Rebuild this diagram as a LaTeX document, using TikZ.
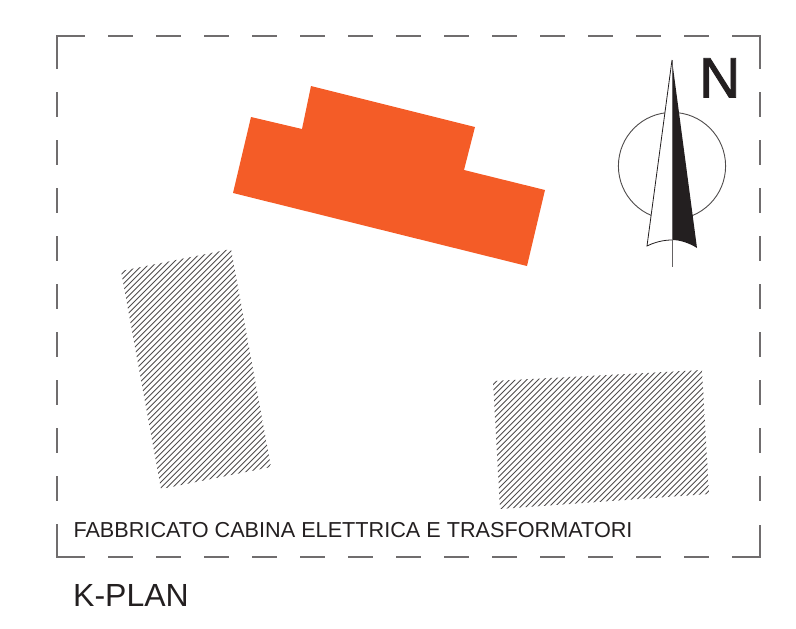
\documentclass[tikz,border=0pt]{standalone}
\usepackage{fontspec}
\setmainfont{Liberation Sans}
\newfontfamily\northfont[FakeBold=1.5]{Liberation Sans}
\definecolor{plan}{HTML}{F45C27}
\definecolor{ink}{HTML}{231F20}
\tikzset{
  frameline/.style={draw=ink!65,line width=1.05pt},
  hatchline/.style={draw=ink!80,line width=1.0pt},
  needle/.style={draw=ink,line width=0.8pt},
  lbl/.style={anchor=base west,inner sep=0pt,text=ink}
}
\begin{document}
\begin{tikzpicture}[x=1pt,y=-1pt]
\useasboundingbox (0,0) rectangle (796,629);
% frame
\draw[frameline] (57,69) -- (57,36) -- (84.5,36);
\draw[frameline] (732,36) -- (760,36) -- (760,69);
\draw[frameline] (57,524) -- (57,557) -- (84.5,557);
\draw[frameline] (732,557) -- (760,557) -- (760,525);
\foreach \k in {0,...,12}{
  \draw[frameline] ({108+48*\k},36) -- ({133+48*\k},36);
  \draw[frameline] ({108+48*\k},557) -- ({133+48*\k},557);
}
\foreach \k in {0,...,8}{
  \draw[frameline] (57,{92+48*\k}) -- (57,{117+48*\k});
  \draw[frameline] (760,{92+48*\k}) -- (760,{117+48*\k});
}
% building
\fill[plan] (251,117) -- (302,129) -- (311,86) -- (475,127) -- (464,170) -- (545,190) -- (527,266) -- (233,193) -- cycle;
% hatched blocks
\begin{scope}
\clip (121,271) -- (231,249) -- (271,467) -- (161,489) -- cycle;
\foreach \k in {0,...,62}{
  \draw[hatchline] ({390+5.75*\k-200},200) -- ({390+5.75*\k-500},500);
}
\end{scope}
\begin{scope}
\clip (493,381) -- (702,370) -- (709,494) -- (500,509) -- cycle;
\foreach \k in {0,...,59}{
  \draw[hatchline] ({872+5.75*\k-350},350) -- ({872+5.75*\k-520},520);
}
\end{scope}
% north arrow
\draw[ink!80,line width=0.9pt] (672,166) circle[radius=53.6];
\fill[white] (672,60) -- (647,246) .. controls (655,242) and (664,240) .. (672,240) -- cycle;
\draw[needle] (672,60) -- (647,246) .. controls (655,242) and (664,240) .. (672,240);
\fill[ink] (672,60) -- (697,248) .. controls (689,243) and (680,240) .. (672,240) -- cycle;
\draw[ink!70,line width=0.9pt] (672,60) -- (672,267);
\node[lbl,font=\northfont\fontsize{57}{57}\selectfont] (north) at (699,97.5) {N};
% labels
\node[lbl,font=\fontsize{21.65}{21.65}\selectfont] (caption) at (73.3,537) {FABBRICATO CABINA ELETTRICA E TRASFORMATORI};
\node[lbl,font=\fontsize{32}{32}\selectfont] (kplan) at (73,606.5) {K-PLAN};
\end{tikzpicture}
\end{document}
